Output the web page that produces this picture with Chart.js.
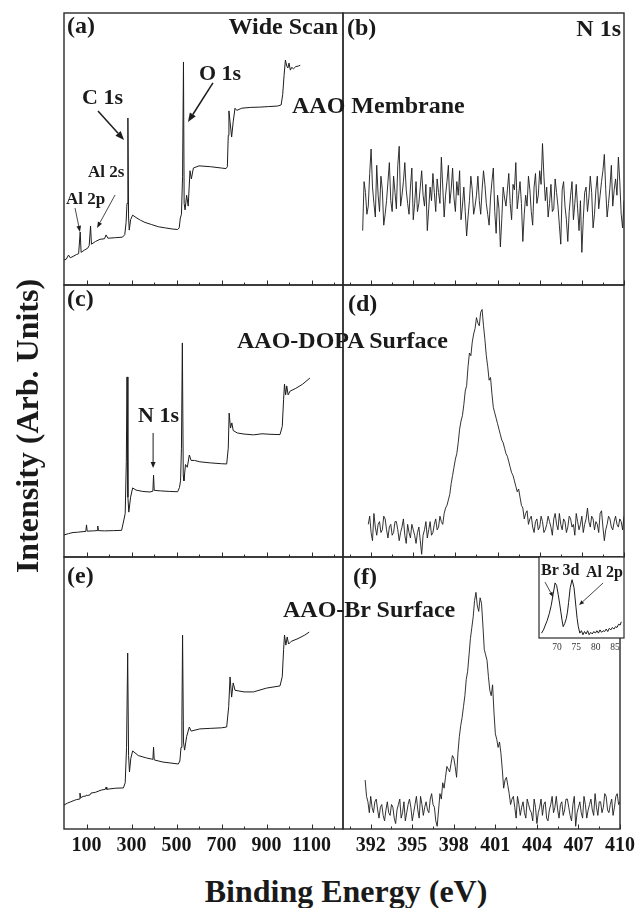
<!DOCTYPE html>
<html><head><meta charset="utf-8">
<script src="https://cdn.jsdelivr.net/npm/chart.js@4.4.1/dist/chart.umd.min.js"></script>
<style>
html,body{margin:0;padding:0;background:#fff;}
#wrap{position:relative;width:640px;height:908px;overflow:hidden;background:#fff;}
#wrap canvas{position:absolute;}
.t{position:absolute;font-family:'Liberation Serif','Times New Roman',serif;font-weight:bold;color:#1a1a1a;white-space:nowrap;z-index:5;}
</style></head><body><div id="wrap"></div>
<script>
// ---------------- DATA ----------------
// Wide scans (binding energy eV, intensity arb.)
const wideEnergyA = [0,10,20,28,40,55,65,72,76,90,105,112,118,122,140,160,180,187,195,230,260,270,276,280,284,287,290,296,305,320,340,360,390,420,450,480,505,512,517,522,527,531,534,538,545,552,560,566,575,600,650,700,720,726,730,733,738,745,752,760,768,790,830,870,910,950,965,972,978,984,990,995,1000,1006,1012,1020,1030,1042,1050];
const wideIntA = [9.2,9.5,11,10,10.5,11.2,11.5,19.5,12,12.8,13.5,14.5,21.7,15,16,16.8,17,18.4,17.2,17.4,17.6,18.5,23,30,61.4,25,20.2,24,25.7,24.8,23.8,23,22.2,21.4,21,20.6,20.4,21,24.6,26,40,82,30,27.6,33,29,42,39,43,43.8,43.5,43,42.8,43.5,55,64,60,54.4,60,65,64.2,65,65.3,65.4,65.6,65.8,66.2,70,77,82.7,80.5,79.8,81.6,79,80,79.5,80.3,80.5,80.8];

const wideEnergyC = [0,20,40,60,80,97,100,103,130,147,150,153,180,220,256,266,272,277,280,284,288,296,305,320,350,382,395,398,401,430,470,505,513,518,522,526,530,533,540,548,557,565,580,604,650,700,723,730,734,740,746,752,770,800,842,880,920,960,970,976,980,985,990,996,1005,1030,1060,1093];
const wideIntC = [8.1,8.6,9,9.1,9.3,9.4,11.8,9.5,9.6,9.7,11.4,9.7,9.6,9.7,9.8,13.6,16,35,66.2,22,16.5,22,25.4,24.6,24.1,23.9,24.2,30.1,24.5,24.3,24.1,24,25.5,28,40,78.7,30,28,34,33,37.5,35.5,35.5,35,34.6,34.3,34.2,40,52.9,47.4,49.3,46.5,45.6,45.2,44.9,45.3,45.1,45,48,58,63.6,59.6,62.9,59.6,61,62,63.5,65.8];

const wideEnergyE = [0,15,30,45,55,68,71,74,85,97,100,103,115,120,140,165,184,187,190,230,264,272,278,283,287,291,297,305,330,367,390,395,398,401,440,480,508,515,520,524,527,531,536,545,557,565,604,650,700,723,732,738,745,752,760,800,842,900,960,970,976,980,986,992,998,1010,1040,1070,1090];
const wideIntE = [8.8,9.5,10,10.5,10.8,11,13.2,11.5,12,12.1,12.5,12.3,12.5,13.2,13.5,14.3,14.6,15.4,14.6,15,15.1,17,30,64.7,27,21,26,28.7,27,26.1,25.7,25.6,30.1,25.4,24.6,24.2,23.9,25,30,40,71.3,32,29,34,37.5,36,36.8,37,37.2,37.5,45,55.9,48.5,53.7,51,50.4,50.4,51.8,52.6,56,66,71.3,67.6,70.6,68,69,70,71.3,72.4];

// N 1s high-resolution scans (0.1 eV steps)
const n1sEnergy = [391.4,391.5,391.6,391.7,391.8,391.9,
392.0,392.1,392.2,392.3,392.4,392.5,392.6,392.7,392.8,392.9,
393.0,393.1,393.2,393.3,393.4,393.5,393.6,393.7,393.8,393.9,
394.0,394.1,394.2,394.3,394.4,394.5,394.6,394.7,394.8,394.9,
395.0,395.1,395.2,395.3,395.4,395.5,395.6,395.7,395.8,395.9,
396.0,396.1,396.2,396.3,396.4,396.5,396.6,396.7,396.8,396.9,
397.0,397.1,397.2,397.3,397.4,397.5,397.6,397.7,397.8,397.9,
398.0,398.1,398.2,398.3,398.4,398.5,398.6,398.7,398.8,398.9,
399.0,399.1,399.2,399.3,399.4,399.5,399.6,399.7,399.8,399.9,
400.0,400.1,400.2,400.3,400.4,400.5,400.6,400.7,400.8,400.9,
401.0,401.1,401.2,401.3,401.4,401.5,401.6,401.7,401.8,401.9,
402.0,402.1,402.2,402.3,402.4,402.5,402.6,402.7,402.8,402.9,
403.0,403.1,403.2,403.3,403.4,403.5,403.6,403.7,403.8,403.9,
404.0,404.1,404.2,404.3,404.4,404.5,404.6,404.7,404.8,404.9,
405.0,405.1,405.2,405.3,405.4,405.5,405.6,405.7,405.8,405.9,
406.0,406.1,406.2,406.3,406.4,406.5,406.6,406.7,406.8,406.9,
407.0,407.1,407.2,407.3,407.4,407.5,407.6,407.7,407.8,407.9,
408.0,408.1,408.2,408.3,408.4,408.5,408.6,408.7,408.8,408.9,
409.0,409.1,409.2,409.3,409.4,409.5,409.6,409.7,409.8,409.9,
410.0];
const n1sIntB = [20,38,34,26,29,41,50,36,30,25,44,33,27,40,35,22,26,31,38,45,
31,27,40,34,28,44,51,29,33,38,45,35,30,26,36,43,24,30,38,27,
30,36,42,33,29,37,20,28,36,31,41,34,27,39,34,30,47,36,25,33,
38,44,30,35,43,32,27,38,33,42,24,29,36,27,18,25,31,40,35,26,
29,33,40,31,26,35,42,37,30,26,22,32,38,43,27,19,33,28,14,24,
36,32,29,35,41,30,24,37,35,45,28,33,38,30,16,26,33,29,40,35,
27,22,36,41,30,33,42,37,52,40,31,36,25,30,37,27,28,39,34,29,
22,15,35,38,29,24,16,27,33,38,24,30,37,28,20,31,12,24,34,36,
27,32,40,34,21,26,35,40,28,33,38,42,48,35,25,30,36,44,29,35,
39,33,47,38,26,21,31];
const n1sIntD = [null,null,null,null,12,15,9,6,16,11,8,12,13,9,10,15,14,10,7,11,
12,8,9,13,13,10,6,9,11,14,8,5,12,9,7,12,10,8,5,9,
11,6,1,8,10,13,7,10,13,8,9,12,14,10,11,15,13,12,16,18,
19,21,23,27,30,33,36,38,42,47,50,52,56,61,63,70,75,74,79,82,
84,88,86,85,90,91,85,80,74,70,65,66,60,55,53,51,49,47,45,43,
42,40,38,37,35,33,31,30,28,26,24,25,22,19,18,14,16,17,12,14,
15,11,9,13,14,10,11,15,13,9,10,12,15,13,11,8,14,16,12,10,
16,12,10,14,13,9,11,15,14,11,12,8,16,13,10,12,15,9,12,14,
18,13,11,15,14,10,13,12,9,16,17,11,6,10,12,15,14,11,10,13,
15,12,11,14,13,10,15];
const n1sIntF = [null,null,18,12,10,6,12,8,6,10,11,7,4,8,9,5,3,7,10,6,
5,9,8,4,2,7,9,11,4,6,10,3,6,9,11,8,3,6,9,12,
7,4,12,9,5,8,10,7,6,11,13,9,8,3,1,7,13,11,17,15,
19,23,22,21,24,27,26,23,19,28,34,38,41,45,49,55,58,64,70,74,
78,84,87,82,80,85,83,75,66,64,62,56,51,49,53,43,35,33,30,32,
28,22,15,18,19,16,13,9,11,12,8,4,12,9,5,8,10,6,4,11,
9,7,6,3,11,8,2,6,8,11,5,9,10,4,3,7,9,12,6,8,
12,7,4,9,10,5,7,11,11,8,5,3,9,12,1,6,8,10,6,4,
12,9,4,7,9,11,7,5,13,8,5,10,10,6,8,13,12,7,6,9,
11,5,8,12,13,9,10];

// Inset: Br 3d / Al 2p region
const insetEnergy = [66.0,66.5,67.0,67.5,68.0,68.5,69.0,69.5,69.9,70.3,70.7,71.0,71.3,71.6,72.0,72.4,72.7,73.0,73.4,73.9,74.4,74.9,75.2,75.5,75.9,76.3,76.7,77.1,77.5,77.9,78.3,78.7,79.1,79.5,79.9,80.3,80.7,81.1,81.5,81.9,82.3,82.7,83.1,83.5,83.9,84.3,84.7,85.1,85.5,85.9,86.3,86.6];
const insetInt = [6,10,16,22,30,40,54,68,65,54,42,32,22,14,18,24,32,44,62,72,62,38,24,14,6,9,4,8,5,9,4,7,5,8,6,9,6,10,7,9,8,11,8,12,10,13,11,14,13,17,16,20];

// Tick positions / labels
const wideTickMarks = [100,200,300,400,500,600,700,800,900,1000,1100,1200];
const wideTickLabels = [100,300,500,700,900,1100];
const n1sTickMarks = [390.5,392,393.5,395,396.5,398,399.5,401,402.5,404,405.5,407,408.5,410];
const n1sTickLabels = [392,395,398,401,404,407,410];
const insetTickLabels = [70,75,80,85];

// ---------------- LAYOUT ----------------
const PL=64, PM=343, PR=624, R0=13, R1=285, R2=557, R3=829;
const wrap = document.getElementById('wrap');
const SERIF = "'Liberation Serif','Times New Roman',serif";
const INK = '#1c1c1c';

function drawArrow(ctx,x1,y1,x2,y2,lw,head,half){
  ctx.save();
  ctx.strokeStyle=INK; ctx.fillStyle=INK; ctx.lineWidth=lw;
  const a=Math.atan2(y2-y1,x2-x1);
  const bx=x2-head*Math.cos(a), by=y2-head*Math.sin(a);
  ctx.beginPath(); ctx.moveTo(x1,y1); ctx.lineTo(bx,by); ctx.stroke();
  ctx.beginPath(); ctx.moveTo(x2,y2);
  ctx.lineTo(bx+half*Math.sin(a), by-half*Math.cos(a));
  ctx.lineTo(bx-half*Math.sin(a), by+half*Math.cos(a));
  ctx.closePath(); ctx.fill();
  ctx.restore();
}

let pid=0;
function makePanel(cfg){
  const pad=cfg.pad;
  const labelH = cfg.labels ? cfg.labelH : 0;
  const w = cfg.x1-cfg.x0+pad.l+pad.r;
  const h = cfg.y1-cfg.y0+pad.t+pad.b+labelH;
  const c=document.createElement('canvas');
  c.width=w; c.height=h;
  c.style.left=(cfg.x0-pad.l)+'px'; c.style.top=(cfg.y0-pad.t)+'px';
  c.style.width=w+'px'; c.style.height=h+'px';
  wrap.appendChild(c);
  const decor={
    id:'decor'+(pid++),
    beforeDraw(chart){
      if(cfg.fill){const {ctx,chartArea:a}=chart; ctx.save(); ctx.fillStyle='#fff'; ctx.fillRect(a.left,a.top,a.right-a.left,a.bottom-a.top); ctx.restore();}
    },
    afterDraw(chart){
      const {ctx,chartArea:a,scales}=chart; const xs=scales.x, ys=scales.y;
      ctx.save();
      ctx.strokeStyle='#2a2a2a'; ctx.lineWidth=cfg.borderW||1.4;
      ctx.strokeRect(a.left,a.top,a.right-a.left,a.bottom-a.top);
      ctx.lineWidth=1; ctx.strokeStyle='#2a2a2a';
      (cfg.tickMarks||[]).forEach(v=>{
        const px=Math.round(xs.getPixelForValue(v))+0.5;
        const len=(cfg.tickMajor||[]).includes(v)?4.5:2.5;
        ctx.beginPath(); ctx.moveTo(px,a.bottom); ctx.lineTo(px,a.bottom-len); ctx.stroke();
      });
      ctx.restore();
      (cfg.arrows||[]).forEach(ar=>{
        drawArrow(ctx, xs.getPixelForValue(ar[0]), ys.getPixelForValue(ar[1]),
                       xs.getPixelForValue(ar[2]), ys.getPixelForValue(ar[3]), ar[4], ar[5], ar[6]);
      });
    }
  };
  const xScale={type:'linear',min:cfg.xmin,max:cfg.xmax,display:false};
  if(cfg.labels){
    Object.assign(xScale,{
      display:true, position:'bottom',
      grid:{display:false,drawTicks:false}, border:{display:false},
      ticks:{autoSkip:false,maxRotation:0,minRotation:0,padding:cfg.labelPad,color:cfg.labelColor||'#161616',
        font:{family:SERIF,size:cfg.labelSize,weight:cfg.labelWeight||'bold'},
        callback:(v)=>String(v)},
      afterBuildTicks:(s)=>{s.ticks=cfg.labels.map(v=>({value:v}));},
      afterFit:(s)=>{s.height=labelH;}
    });
  }
  return new Chart(c,{
    type:'line',
    data:{datasets:[{
      data:cfg.xs.map((e,i)=>({x:e,y:cfg.ys[i]})),
      borderColor:INK,borderWidth:cfg.lineW||1,pointRadius:0,tension:0,fill:false,spanGaps:false
    }]},
    options:{
      responsive:false,animation:false,events:[],
      layout:{padding:{left:pad.l,right:pad.r,top:pad.t,bottom:pad.b}},
      plugins:{legend:{display:false},tooltip:{enabled:false},title:{display:false}},
      scales:{x:xScale,y:{type:'linear',min:0,max:100,display:false}}
    },
    plugins:[decor]
  });
}

const P3={l:3,r:3,t:3,b:3};
// (a)
makePanel({x0:PL,x1:PM,y0:R0,y1:R1,xmin:0,xmax:1240,xs:wideEnergyA,ys:wideIntA,pad:P3,
  tickMarks:wideTickMarks,tickMajor:wideTickLabels,
  arrows:[[151,64,267,53.3,1.5,9,3.5],[662,74.3,551,59.9,1.5,9,3.5],[227,33.1,147,21,0.8,6,2.3],[49,28.3,71,19.5,0.8,6,2.3]]});
// (b)
makePanel({x0:PM,x1:PR,y0:R0,y1:R1,xmin:390,xmax:410,xs:n1sEnergy,ys:n1sIntB,pad:P3,lineW:0.9,
  tickMarks:n1sTickMarks,tickMajor:n1sTickLabels});
// (c)
makePanel({x0:PL,x1:PM,y0:R1,y1:R2,xmin:0,xmax:1240,xs:wideEnergyC,ys:wideIntC,pad:P3,
  tickMarks:wideTickMarks,tickMajor:wideTickLabels,
  arrows:[[396,45.6,396,32.7,1,6,2.5]]});
// (d)
makePanel({x0:PM,x1:PR,y0:R1,y1:R2,xmin:390,xmax:410,xs:n1sEnergy,ys:n1sIntD,pad:P3,lineW:0.9,
  tickMarks:n1sTickMarks,tickMajor:n1sTickLabels});
// (e)
makePanel({x0:PL,x1:PM,y0:R2,y1:R3,xmin:0,xmax:1240,xs:wideEnergyE,ys:wideIntE,pad:{l:3,r:3,t:3,b:0},
  tickMarks:wideTickMarks,tickMajor:wideTickLabels,labels:wideTickLabels,labelH:30,labelPad:5,labelSize:20});
// (f)
makePanel({x0:PM,x1:PR,y0:R2,y1:R3,xmin:390,xmax:410,xs:n1sEnergy,ys:n1sIntF,pad:{l:3,r:16,t:3,b:0},lineW:0.9,
  tickMarks:n1sTickMarks,tickMajor:n1sTickLabels,labels:n1sTickLabels,labelH:30,labelPad:5,labelSize:20});
// inset in (f)
makePanel({x0:539,x1:PR,y0:R2,y1:638,xmin:65.35,xmax:87.3,xs:insetEnergy,ys:insetInt,pad:{l:3,r:8,t:3,b:0},
  labels:insetTickLabels,labelH:15,labelPad:3.5,labelSize:9.5,labelWeight:'normal',labelColor:'#333',borderW:1.2,lineW:1,fill:true,
  arrows:[[66.9,69,69.0,50.6,0.8,5,2],[81.9,67.9,75.7,40.7,0.8,5,2]]});

// ---------------- TEXT ----------------
function addText(str,x,baseline,size,align){
  const d=document.createElement('div'); d.className='t'; d.textContent=str;
  d.style.fontSize=size+'px'; d.style.lineHeight=size+'px';
  d.style.top=(baseline-0.8375*size)+'px';
  if(align==='right') d.style.right=(640-x)+'px'; else d.style.left=x+'px';
  wrap.appendChild(d); return d;
}
addText('(a)',67,33.5,24);
addText('Wide Scan',338,34,24,'right');
addText('(b)',347,35,24);
addText('N 1s',621,36,24,'right');
addText('AAO Membrane',292,113,24);
addText('C 1s',82,104,22);
addText('O 1s',199,80,22);
addText('Al 2s',88,177,17);
addText('Al 2p',66,204,17);
addText('(c)',67,306,24);
addText('AAO-DOPA Surface',237,348,24);
addText('N 1s',138,422,22);
addText('(d)',348,311,24);
addText('(e)',67,583,24);
addText('AAO-Br Surface',283,617,24);
addText('(f)',353,584,24);
addText('Br 3d',541,575,16);
addText('Al 2p',586,577,16);
const bx=addText('Binding Energy (eV)',0,902,32);
bx.style.left='346px'; bx.style.transform='translateX(-50%)';
const yt=document.createElement('div'); yt.className='t'; yt.textContent='Intensity (Arb. Units)';
Object.assign(yt.style,{fontSize:'32px',lineHeight:'32px',left:'27px',top:'426px',transform:'translate(-50%,-50%) rotate(-90deg)'});
wrap.appendChild(yt);
</script>
</body></html>
